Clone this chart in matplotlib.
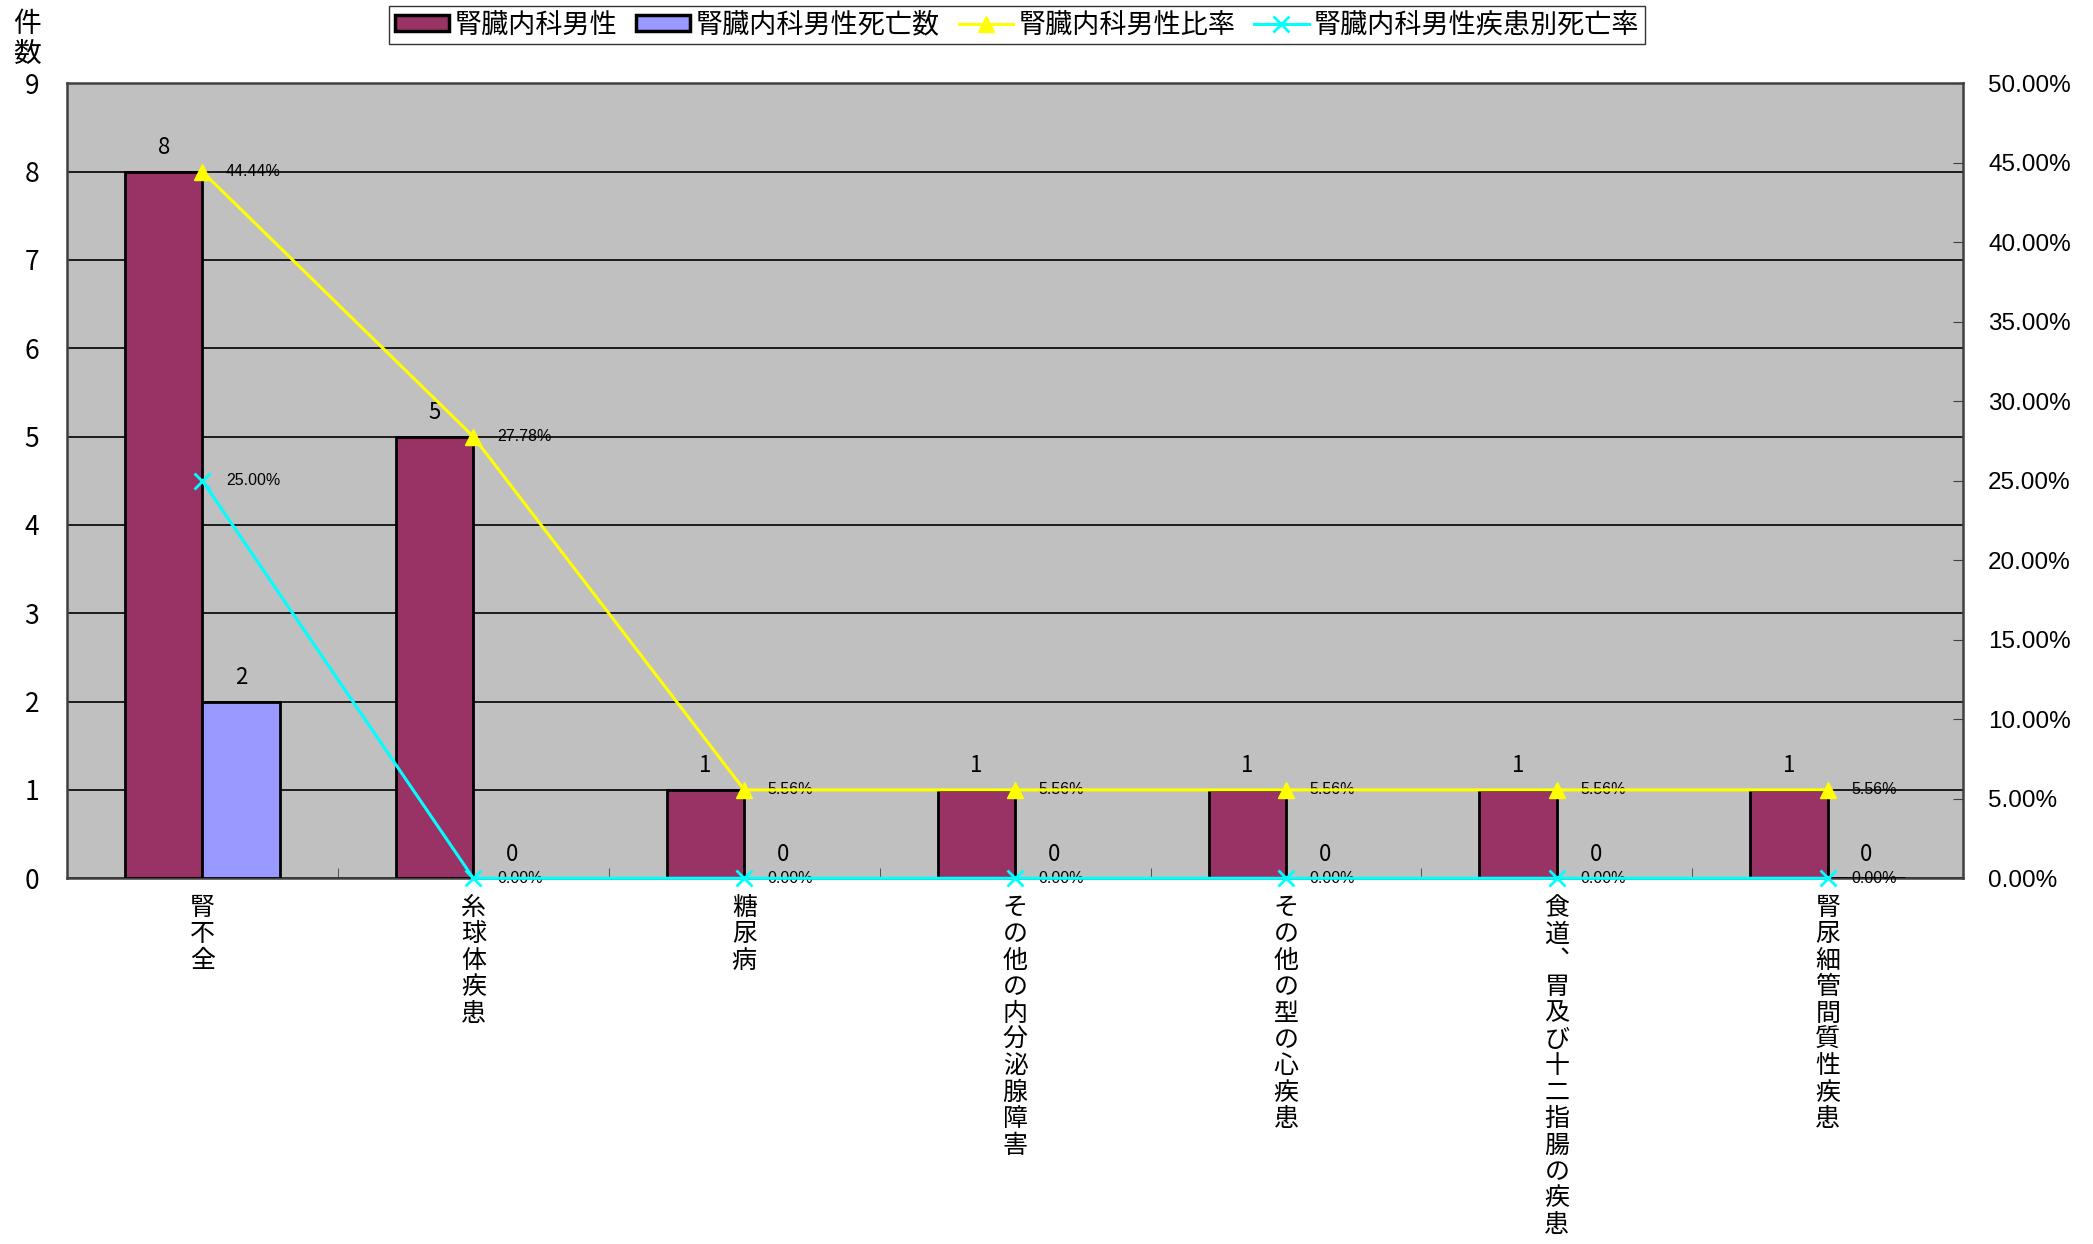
import matplotlib
matplotlib.use('Agg')
import matplotlib.pyplot as plt
import numpy as np
from matplotlib.patches import Patch
from matplotlib.lines import Line2D
from matplotlib.ticker import MultipleLocator, FuncFormatter

plt.rcParams['font.family'] = ['Noto Sans CJK JP', 'DejaVu Sans']

# data
categories = ['腎不全', '糸球体疾患', '糖尿病', 'その他の内分泌腺障害',
              'その他の型の心疾患', '食道、胃及び十二指腸の疾患', '腎尿細管間質性疾患']
male_counts = [8, 5, 1, 1, 1, 1, 1]
death_counts = [2, 0, 0, 0, 0, 0, 0]
male_ratio = [44.44, 27.78, 5.56, 5.56, 5.56, 5.56, 5.56]
death_rate = [25.00, 0.00, 0.00, 0.00, 0.00, 0.00, 0.00]

c_male = '#993366'
c_death = '#9999FF'
c_ratio = '#FFFF00'
c_rate = '#00FFFF'

fig = plt.figure(figsize=(20.93, 12.44), dpi=100)
ax = fig.add_axes([0.032, 0.294, 0.906, 0.639])
ax.set_facecolor('#C0C0C0')

x = np.arange(len(categories))
w = 0.286
b1 = ax.bar(x - w / 2, male_counts, w, color=c_male, edgecolor='black', linewidth=2, zorder=3)
b2 = ax.bar(x + w / 2, death_counts, w, color=c_death, edgecolor='black', linewidth=2, zorder=3)

for bars in (b1, b2):
    for r in bars:
        ax.annotate(f'{int(r.get_height())}', (r.get_x() + r.get_width() / 2, r.get_height()),
                    xytext=(0, 9), textcoords='offset points', ha='center', va='bottom',
                    fontsize=16)

ax.set_xlim(-0.5, len(categories) - 0.5)
ax.set_ylim(0, 9)
ax.yaxis.set_major_locator(MultipleLocator(1))
ax.yaxis.grid(True, color='black', linewidth=1.2)
ax.set_axisbelow(True)
ax.tick_params(axis='y', length=0, pad=20, labelsize=19)

# vertical text: one character per line, vertical comma form
vlabels = ['\n'.join(c.replace('、', '︑')) for c in categories]
ax.set_xticks(x, vlabels)
ax.tick_params(axis='x', length=0, pad=12, labelsize=18)
for lab in ax.get_xticklabels():
    lab.set_verticalalignment('top')
    lab.set_linespacing(1.02)
ax.set_xticks(np.arange(len(categories) + 1) - 0.5, minor=True)
ax.tick_params(axis='x', which='minor', direction='in', length=7, color='#404040')

for s in ax.spines.values():
    s.set_color('#404040')
    s.set_linewidth(1.8)

ax2 = ax.twinx()
ax2.set_ylim(0, 50)
ax2.yaxis.set_major_locator(MultipleLocator(5))
ax2.yaxis.set_major_formatter(FuncFormatter(lambda v, p: f'{v:.2f}%'))
ax2.tick_params(axis='y', direction='in', length=7, pad=18, labelsize=17.5, color='#404040')
for lab in ax2.get_yticklabels():
    lab.set_family(['Liberation Sans', 'DejaVu Sans'])
for s in ax2.spines.values():
    s.set_visible(False)

ax2.plot(x, male_ratio, color=c_ratio, linewidth=2.2, marker='^', markersize=12,
         zorder=4, clip_on=False)
ax2.plot(x, death_rate, color=c_rate, linewidth=2.2, marker='x', markersize=11,
         markeredgewidth=2, zorder=5, clip_on=False)

for xi, v in zip(x, male_ratio):
    ax2.annotate(f'{v:.2f}%', (xi, v), xytext=(17, 0), textcoords='offset points',
                 ha='left', va='center', fontsize=11.5, family=['Liberation Sans', 'DejaVu Sans'])
for xi, v in zip(x, death_rate):
    ax2.annotate(f'{v:.2f}%', (xi, v), xytext=(17, 0), textcoords='offset points',
                 ha='left', va='center', fontsize=11.5, family=['Liberation Sans', 'DejaVu Sans'])

fig.text(0.013, 0.993, '件\n数', ha='center', va='top', fontsize=20, linespacing=1.0)

handles = [
    Patch(facecolor=c_male, edgecolor='black', linewidth=2.5),
    Patch(facecolor=c_death, edgecolor='black', linewidth=2.5),
    Line2D([], [], color=c_ratio, linewidth=2.2, marker='^', markersize=12),
    Line2D([], [], color=c_rate, linewidth=2.2, marker='x', markersize=11, markeredgewidth=2),
]
labels = ['腎臓内科男性', '腎臓内科男性死亡数', '腎臓内科男性比率', '腎臓内科男性疾患別死亡率']
leg = fig.legend(handles, labels, loc='upper center', bbox_to_anchor=(0.486, 1.006), ncol=4,
                 fontsize=19.5, frameon=True, fancybox=False, edgecolor='black',
                 handlelength=2.0, handleheight=0.5, handletextpad=0.2, columnspacing=0.7,
                 borderpad=0.2)
leg.get_frame().set_linewidth(1)

fig.savefig('out.png', dpi=100)
